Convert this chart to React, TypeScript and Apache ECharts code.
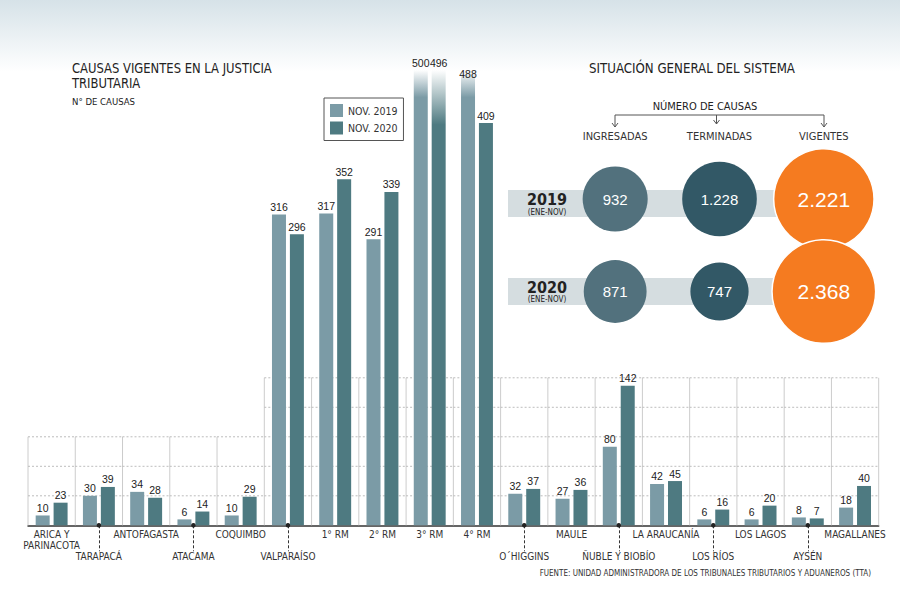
import React, { useEffect, useRef } from "react";
import * as echarts from "echarts";

// ---------- data ----------
const categories = [
  "ARICA Y\nPARINACOTA", "TARAPACÁ", "ANTOFAGASTA", "ATACAMA", "COQUIMBO",
  "VALPARAÍSO", "1° RM", "2° RM", "3° RM", "4° RM", "O´HIGGINS", "MAULE",
  "ÑUBLE Y BIOBÍO", "LA ARAUCANÍA", "LOS RÍOS", "LOS LAGOS", "AYSÉN", "MAGALLANES",
];
const nov2019 = [10, 30, 34, 6, 10, 316, 317, 291, 500, 488, 32, 27, 80, 42, 6, 6, 8, 18];
const nov2020 = [23, 39, 28, 14, 29, 296, 352, 339, 496, 409, 37, 36, 142, 45, 16, 20, 7, 40];
// labels placed on the lower row (with a dashed leader)
const lowLabel = [false, true, false, true, false, true, false, false, false, false, true, false, true, false, true, false, true, false];
// height of the background grid per category
const gridTops = [90, 90, 90, 90, 90, 150, 150, 150, 150, 150, 150, 150, 150, 150, 150, 150, 150, 150];
const GRID_STEP = 30;

const systemColumns = ["INGRESADAS", "TERMINADAS", "VIGENTES"];
const systemYears = ["2019", "2020"];
const ingresadas = [932, 871];
const terminadas = [1228, 747];
const vigentes = [2221, 2368];

// ---------- style ----------
const FONT = '"Liberation Sans Narrow", "DejaVu Sans Condensed", "Roboto Condensed", sans-serif';
const NUM_FONT = '"Liberation Sans", "DejaVu Sans Condensed", sans-serif';
const C2019 = "#7b9ba6";
const C2020 = "#4e7a81";
const CIRCLE_COLORS = ["#52717d", "#325866", "#f57b20"];
const Y_MAX = 463;

function fmt(n: number) {
  return String(n).replace(/\B(?=(\d{3})+(?!\d))/g, ".");
}

function barData(values: number[], rgb: string, solid: string, fadeStop: number) {
  const clipped = values.filter((v) => v > Y_MAX);
  const top = clipped.length ? Math.max(...clipped) : 0;
  return values.map((v) =>
    v > Y_MAX
      ? {
          value: v,
          itemStyle: {
            color: new echarts.graphic.LinearGradient(0, 0, 0, 1, [
              { offset: 0, color: `rgba(${rgb},0)` },
              { offset: fadeStop, color: solid },
              { offset: 1, color: solid },
            ]),
          },
          label: { offset: [0, (top - v) * 0.95] },
        }
      : v
  );
}

export default function App() {
  const ref = useRef<HTMLDivElement>(null);

  useEffect(() => {
    if (!ref.current) return;
    const chart = echarts.init(ref.current, null, { renderer: "svg" });

    const scatterData: any[] = [];
    const cols = [ingresadas, terminadas, vigentes];
    systemYears.forEach((_, r) => {
      cols.forEach((arr, c) => {
        scatterData.push({
          value: [c, r, arr[r]],
          itemStyle: {
            color: CIRCLE_COLORS[c],
            opacity: 1,
            borderColor: c === 2 ? "#ffffff" : "transparent",
            borderWidth: c === 2 ? 1.5 : 0,
          },
          label: { fontSize: c === 2 ? 21 : 15 },
        });
      });
    });

    const arrowLine = "#555";
    const arrowHead = (x: number, y: number) => ({
      type: "polyline",
      shape: { points: [[x - 3, y - 4], [x, y], [x + 3, y - 4]] },
      style: { stroke: arrowLine, lineWidth: 1, fill: "none" },
    });
    const txt = (text: string, x: number, y: number, size: number, extra: any = {}) => ({
      type: "text",
      x,
      y,
      scaleX: extra.sx || 1,
      style: {
        text,
        fontSize: size,
        fontFamily: FONT,
        fill: "#222",
        align: extra.align || "left",
        textAlign: extra.align || "left",
        verticalAlign: "middle",
        textVerticalAlign: "middle",
        fontWeight: extra.weight || "normal",
      },
      z: 10,
    });

    const option: any = {
      animation: false,
      backgroundColor: "#ffffff",
      textStyle: { fontFamily: FONT },
      graphic: [
        {
          type: "rect",
          shape: { x: 0, y: 0, width: 900, height: 72 },
          style: {
            fill: new echarts.graphic.LinearGradient(0, 0, 0, 1, [
              { offset: 0, color: "#d6e2e8" },
              { offset: 1, color: "#ffffff" },
            ]),
          },
          z: -10,
          silent: true,
        },
        txt("CAUSAS VIGENTES EN LA JUSTICIA", 72, 68, 14, { sx: 0.92 }),
        txt("TRIBUTARIA", 72, 83, 14, { sx: 0.92 }),
        txt("N° DE CAUSAS", 72, 101, 9.5),
        txt("SITUACIÓN GENERAL DEL SISTEMA", 589, 68, 14, { sx: 0.94 }),
        txt("NÚMERO DE CAUSAS", 705, 106, 11, { align: "center" }),
        {
          type: "polyline",
          shape: { points: [[615, 127], [615, 115], [824, 115], [824, 127]] },
          style: { stroke: arrowLine, lineWidth: 1, fill: "none" },
          z: 10,
        },
        {
          type: "line",
          shape: { x1: 716.5, y1: 115, x2: 716.5, y2: 124 },
          style: { stroke: arrowLine, lineWidth: 1 },
          z: 10,
        },
        { ...arrowHead(615, 127), z: 10 },
        { ...arrowHead(716.5, 124), z: 10 },
        { ...arrowHead(824, 127), z: 10 },
        {
          type: "rect",
          shape: { x: 508, y: 190, width: 316, height: 27 },
          style: { fill: "#d5dde0" },
          z: 0,
        },
        {
          type: "rect",
          shape: { x: 508, y: 278, width: 316, height: 27 },
          style: { fill: "#d5dde0" },
          z: 0,
        },
        txt(systemYears[0], 547, 199, 16, { align: "center", weight: "bold" }),
        txt("(ENE-NOV)", 547, 212, 8, { align: "center" }),
        txt(systemYears[1], 547, 287, 16, { align: "center", weight: "bold" }),
        txt("(ENE-NOV)", 547, 299.5, 8, { align: "center" }),
        {
          type: "text",
          x: 871,
          y: 573,
          style: {
            text: "FUENTE: UNIDAD ADMINISTRADORA DE LOS TRIBUNALES TRIBUTARIOS Y ADUANEROS (TTA)",
            fontSize: 8,
            fontFamily: FONT,
            fill: "#333",
            align: "right",
            textAlign: "right",
            verticalAlign: "middle",
            textVerticalAlign: "middle",
          },
          z: 10,
        },
      ],
      legend: {
        data: ["NOV. 2019", "NOV. 2020"],
        orient: "vertical",
        left: 324,
        top: 98,
        itemWidth: 13,
        itemHeight: 13,
        itemGap: 4.5,
        padding: 6,
        borderColor: "#555",
        borderWidth: 1,
        icon: "rect",
        textStyle: { fontSize: 10.5, color: "#333", fontFamily: FONT },
        selectedMode: false,
      },
      grid: [
        { left: 28, right: 21.3, top: 70, bottom: 83.7 },
        { left: 563, right: 24, top: 152.75, bottom: 271.25 },
      ],
      xAxis: [
        {
          type: "category",
          data: categories,
          gridIndex: 0,
          boundaryGap: true,
          axisLine: { lineStyle: { color: "#333", width: 1.5 } },
          axisTick: {
            show: true,
            alignWithLabel: true,
            interval: (index: number) => !!lowLabel[index],
            length: 26,
            lineStyle: { color: "#333", width: 1, type: [3, 2] },
          },
          axisLabel: {
            interval: 0,
            fontSize: 10,
            lineHeight: 11,
            color: "#333",
            margin: 4,
            hideOverlap: false,
            formatter: (v: string, i: number) => (lowLabel[i] ? "\n\n" + v : v),
          },
          splitLine: { show: false },
        },
        {
          type: "category",
          data: systemColumns,
          gridIndex: 1,
          position: "top",
          axisLine: { show: false },
          axisTick: { show: false },
          axisLabel: { fontSize: 11, color: "#333", margin: 11 },
        },
      ],
      yAxis: [
        {
          type: "value",
          gridIndex: 0,
          min: 0,
          max: Y_MAX,
          show: false,
          splitLine: { show: false },
        },
        {
          type: "category",
          data: systemYears,
          gridIndex: 1,
          inverse: true,
          show: false,
        },
      ],
      series: [
        {
          type: "custom",
          xAxisIndex: 0,
          yAxisIndex: 0,
          silent: true,
          clip: false,
          z: 1,
          data: categories.map((_, i) => [i, gridTops[i]]),
          renderItem: (params: any, api: any) => {
            const i = api.value(0);
            const top = api.value(1);
            const base = api.coord([i, 0]);
            const w = api.size([1, 0])[0];
            const left = base[0] - w / 2;
            const yTop = api.coord([i, top])[1];
            const children: any[] = [
              {
                type: "line",
                shape: { x1: left, y1: base[1], x2: left, y2: yTop },
                style: { stroke: "#cccccc", lineWidth: 1 },
              },
            ];
            if (i === categories.length - 1) {
              children.push({
                type: "line",
                shape: { x1: left + w, y1: base[1], x2: left + w, y2: yTop },
                style: { stroke: "#cccccc", lineWidth: 1 },
              });
            }
            for (let v = GRID_STEP; v <= top; v += GRID_STEP) {
              const y = api.coord([i, v])[1];
              children.push({
                type: "line",
                shape: { x1: left, y1: y, x2: left + w, y2: y },
                style: { stroke: "#bdbdbd", lineWidth: 1, lineDash: [2, 2] },
              });
            }
            return { type: "group", children };
          },
        },
        {
          name: "NOV. 2019",
          type: "bar",
          xAxisIndex: 0,
          yAxisIndex: 0,
          barWidth: 14,
          barGap: "28%",
          z: 3,
          itemStyle: { color: C2019 },
          label: { show: true, position: "top", distance: 2, fontSize: 10.5, color: "#222", fontFamily: NUM_FONT },
          data: barData(nov2019, "123,155,166", C2019, 0.06),
        },
        {
          name: "NOV. 2020",
          type: "bar",
          xAxisIndex: 0,
          yAxisIndex: 0,
          barWidth: 14,
          z: 3,
          itemStyle: { color: C2020 },
          label: { show: true, position: "top", distance: 2, fontSize: 10.5, color: "#222", fontFamily: NUM_FONT },
          data: barData(nov2020, "78,122,129", C2020, 0.12),
        },
        {
          type: "scatter",
          xAxisIndex: 0,
          yAxisIndex: 0,
          symbol: "circle",
          symbolSize: 4.5,
          clip: false,
          silent: true,
          z: 5,
          itemStyle: { color: "#222", opacity: 1 },
          data: categories.map((_, i) => (lowLabel[i] ? [i, 0] : null)).filter((d) => d),
        },
        {
          type: "scatter",
          xAxisIndex: 1,
          yAxisIndex: 1,
          clip: false,
          silent: true,
          z: 4,
          symbol: "circle",
          symbolSize: (val: number[]) => 2 * 1.065 * Math.sqrt(val[2]),
          label: {
            show: true,
            position: "inside",
            color: "#ffffff",
            fontFamily: NUM_FONT,
            formatter: (p: any) => fmt(p.value[2]),
          },
          data: scatterData,
        },
      ],
    };

    chart.setOption(option);
    return () => chart.dispose();
  }, []);

  return (
    <div
      ref={ref}
      style={{ position: "fixed", left: 0, top: 0, width: 900, height: 609 }}
    />
  );
}
